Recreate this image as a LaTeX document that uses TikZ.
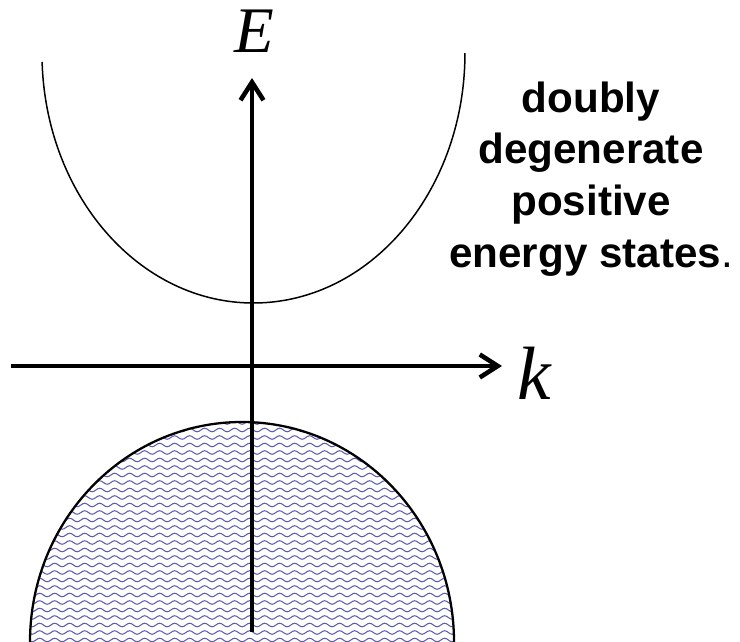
\documentclass[tikz,border=0pt]{standalone}
\usepackage{fontspec}
\setmainfont{Liberation Serif}
\newfontfamily\statefont{Liberation Sans}
\usetikzlibrary{arrows.meta,decorations.pathmorphing}
\definecolor{wavecol}{RGB}{92,92,178}
\tikzset{
  axis/.style={line width=2.6pt, -{Straight Barb[length=3.6mm,width=4.6mm]}},
  wave/.style={wavecol, line width=0.6pt, decorate,
    decoration={snake, segment length=0.3cm, amplitude=0.035cm}}
}
\begin{document}
\begin{tikzpicture}[x=0.02cm, y=0.02cm]
\useasboundingbox (0,0) rectangle (740,642);
% filled negative energy states
\begin{scope}
  \clip (30,0) arc[start angle=180, end angle=0, x radius=212, y radius=220];
  \foreach \r in {0,...,30}
    \draw[wave] (20,{2+7.5*\r}) -- (470,{2+7.5*\r});
\end{scope}
\draw[line width=1.3pt] (30,0) arc[start angle=180, end angle=0, x radius=212, y radius=220];
% positive energy band
\draw[line width=0.85pt] (42.1,580) arc[start angle=182.06, end angle=360, x radius=211.5, y radius=250];
\coordinate (kstart) at (11,276);
\coordinate (kend) at (502,276);
\coordinate (Estart) at (252,10);
\coordinate (Eend) at (252,564);
\draw[axis] (kstart) -- (kend);
\draw[axis] (Estart) -- (Eend);
\node[anchor=base] (Elabel) at (254,589) {\fontsize{37}{40}\selectfont\itshape E};
\node[anchor=base] (klabel) at (534,242) {\fontsize{43}{46}\selectfont\itshape k};
\node[align=center, inner sep=0, font=\statefont\fontsize{24}{29.4}\selectfont\bfseries] (states) at (591,463)
  {doubly\\degenerate\\positive\\energy states{\mdseries.}};
\end{tikzpicture}
\end{document}
